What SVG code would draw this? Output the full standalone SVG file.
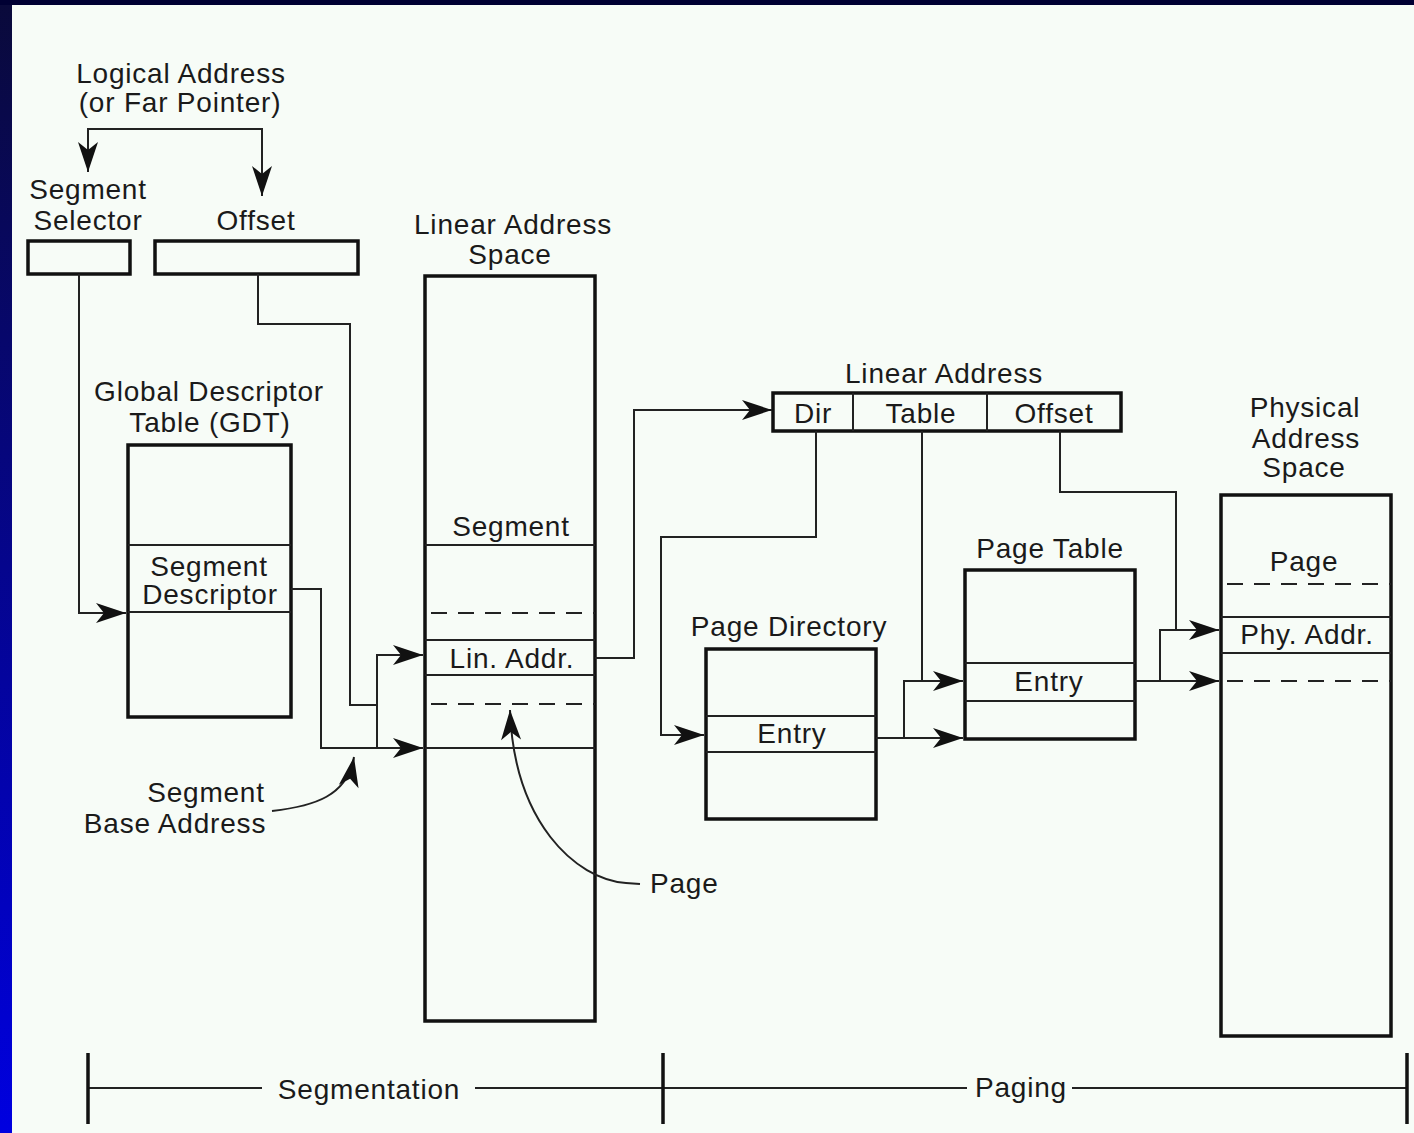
<svg xmlns="http://www.w3.org/2000/svg" width="1414" height="1133" viewBox="0 0 1414 1133">
<defs>
<linearGradient id="side" x1="0" y1="0" x2="0" y2="1">
<stop offset="0" stop-color="#0a0a3a"/>
<stop offset="1" stop-color="#0000e0"/>
</linearGradient>
<marker id="ah" viewBox="-32 -12 34 24" markerWidth="34" markerHeight="24" refX="0" refY="0" orient="auto" markerUnits="userSpaceOnUse">
<path d="M0,0 L-30,-10 L-22,0 L-30,10 Z" fill="#111"/>
</marker>
<style>
text{font-family:"Liberation Sans",Arial,sans-serif;font-size:28px;fill:#1a1a1a;letter-spacing:0.8px}
.c{text-anchor:middle}
.box{fill:none;stroke:#111;stroke-width:3.5}
.row{fill:none;stroke:#222;stroke-width:2}
.dash{fill:none;stroke:#222;stroke-width:2;stroke-dasharray:16 11}
.con{fill:none;stroke:#222;stroke-width:2}
.arr{marker-end:url(#ah)}
.tick{stroke:#111;stroke-width:3.5}
</style>
</defs>
<rect x="0" y="0" width="1414" height="1133" fill="#f7fcf7"/>
<rect x="0" y="0" width="12" height="1133" fill="url(#side)"/>
<rect x="0" y="0" width="1414" height="5" fill="#000033"/>

<g id="logical-address">
<text class="c" x="181" y="83">Logical Address</text>
<text class="c" x="180" y="112">(or Far Pointer)</text>
</g>
<g id="segment-selector">
<text class="c" x="88" y="199">Segment</text>
<text class="c" x="88" y="230">Selector</text>
<rect class="box" x="28" y="241" width="102" height="33"/>
</g>
<g id="offset">
<text class="c" x="256" y="230">Offset</text>
<rect class="box" x="155" y="241" width="203" height="33"/>
</g>
<g id="gdt">
<text class="c" x="209" y="401">Global Descriptor</text>
<text class="c" x="210" y="432">Table (GDT)</text>
<rect class="box" x="128" y="445" width="163" height="272"/>
<line class="row" x1="128" y1="545" x2="291" y2="545"/>
<line class="row" x1="128" y1="612" x2="291" y2="612"/>
<text class="c" x="209" y="576">Segment</text>
<text class="c" x="210" y="604">Descriptor</text>
</g>
<g id="linear-address-space">
<text class="c" x="513" y="234">Linear Address</text>
<text class="c" x="510" y="264">Space</text>
<rect class="box" x="425" y="276" width="170" height="745"/>
<text class="c" x="511" y="536">Segment</text>
<line class="row" x1="425" y1="545" x2="595" y2="545"/>
<line class="dash" x1="431" y1="613" x2="595" y2="613"/>
<line class="row" x1="425" y1="640" x2="595" y2="640"/>
<text class="c" x="512" y="668">Lin. Addr.</text>
<line class="row" x1="425" y1="675" x2="595" y2="675"/>
<line class="dash" x1="431" y1="704" x2="595" y2="704"/>
<line class="row" x1="425" y1="748" x2="595" y2="748"/>
</g>
<g id="segment-base-address">
<text class="c" x="206" y="802">Segment</text>
<text class="c" x="175" y="833">Base Address</text>
</g>
<g id="page-label">
<text x="650" y="893">Page</text>
</g>
<g id="linear-address">
<text class="c" x="944" y="383">Linear Address</text>
<rect class="box" x="773" y="393" width="348" height="38"/>
<line class="row" x1="853" y1="393" x2="853" y2="431"/>
<line class="row" x1="987" y1="393" x2="987" y2="431"/>
<text class="c" x="813" y="423">Dir</text>
<text class="c" x="921" y="423">Table</text>
<text class="c" x="1054" y="423">Offset</text>
</g>
<g id="page-directory">
<text class="c" x="789" y="636">Page Directory</text>
<rect class="box" x="706" y="649" width="170" height="170"/>
<line class="row" x1="706" y1="716" x2="876" y2="716"/>
<line class="row" x1="706" y1="752" x2="876" y2="752"/>
<text class="c" x="792" y="743">Entry</text>
</g>
<g id="page-table">
<text class="c" x="1050" y="558">Page Table</text>
<rect class="box" x="965" y="570" width="170" height="169"/>
<line class="row" x1="965" y1="663" x2="1135" y2="663"/>
<line class="row" x1="965" y1="701" x2="1135" y2="701"/>
<text class="c" x="1049" y="691">Entry</text>
</g>
<g id="physical-address-space">
<text class="c" x="1305" y="417">Physical</text>
<text class="c" x="1306" y="448">Address</text>
<text class="c" x="1304" y="477">Space</text>
<rect class="box" x="1221" y="495" width="170" height="541"/>
<text class="c" x="1304" y="571">Page</text>
<line class="dash" x1="1227" y1="584" x2="1391" y2="584"/>
<line class="row" x1="1221" y1="617" x2="1391" y2="617"/>
<text class="c" x="1307" y="644">Phy. Addr.</text>
<line class="row" x1="1221" y1="653" x2="1391" y2="653"/>
<line class="dash" x1="1227" y1="681" x2="1391" y2="681"/>
</g>
<g id="timeline">
<line class="con" x1="88" y1="1088" x2="262" y2="1088"/>
<line class="con" x1="475" y1="1088" x2="967" y2="1088"/>
<line class="con" x1="1072" y1="1088" x2="1407" y2="1088"/>
<line class="tick" x1="88" y1="1053" x2="88" y2="1124"/>
<line class="tick" x1="663" y1="1053" x2="663" y2="1124"/>
<line class="tick" x1="1407" y1="1053" x2="1407" y2="1124"/>
<text class="c" x="369" y="1099">Segmentation</text>
<text class="c" x="1021" y="1097">Paging</text>
</g>
<g id="connectors">
<path class="con arr" d="M175,129 H88 V172"/>
<path class="con arr" d="M175,129 H262 V196"/>
<path class="con arr" d="M79,274 V613 H126"/>
<path class="con" d="M258,274 V324 H350 V705 H377"/>
<path class="con arr" d="M291,589 H321 V748 H423"/>
<path class="con arr" d="M377,748 V655 H423"/>
<path class="con arr" d="M595,658 H634 V410 H772"/>
<path class="con arr" d="M816,431 V537 H661 V735 H704"/>
<path class="con arr" d="M922,431 V681 H963"/>
<path class="con" d="M904,738 V681 H922"/>
<path class="con arr" d="M876,738 H963"/>
<path class="con arr" d="M1060,431 V492 H1176 V630 H1219"/>
<path class="con" d="M1160,681 V630 H1176"/>
<path class="con arr" d="M1135,681 H1219"/>
<path class="con arr" d="M272,811 C315,806 347,796 354,757"/>
<path class="con arr" d="M640,884 L626,883 C575,879 514,822 510,710"/>
</g>
</svg>
